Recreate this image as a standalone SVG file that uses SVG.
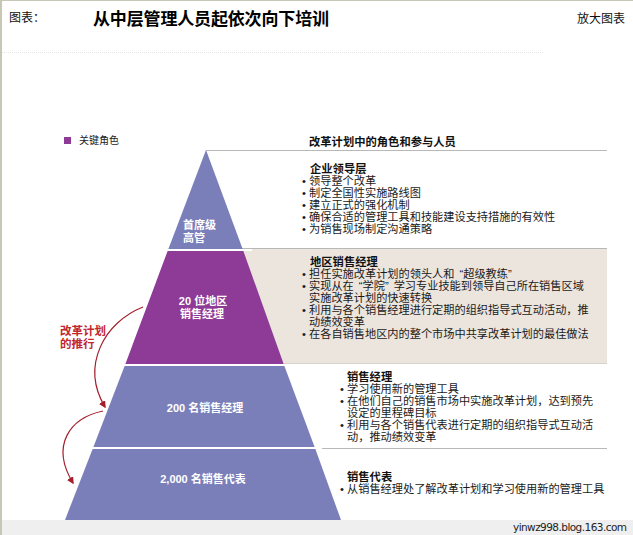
<svg xmlns="http://www.w3.org/2000/svg" width="633" height="535" viewBox="0 0 633 535">
<style>
text{font-family:"Liberation Sans","Noto Sans CJK SC",sans-serif;}
.t{font-size:11.2px;fill:#1a1a1a;}
.h{font-size:11.3px;font-weight:bold;fill:#111;}
.w{font-size:11px;font-weight:bold;fill:#fff;}
.blue{fill:#7b7fb9;}
.purple{fill:#8d3b96;}
.sep{stroke:#fff;stroke-width:2;}
.gl{stroke:#b8b8b8;stroke-width:1;}
.arr{fill:none;stroke:#a31f2c;stroke-width:1.2;marker-end:url(#ah);}
</style>
<defs>
<marker id="ah" viewBox="0 0 10 10" refX="8" refY="5" markerWidth="6" markerHeight="6" orient="auto">
<path d="M0,0 L10,5 L0,10 z" fill="#a31f2c"/>
</marker>
</defs>
<rect x="0" y="0" width="633" height="535" fill="#fff"/>
<!-- page chrome -->
<rect x="0" y="0" width="2" height="535" fill="#c8c6b4"/>
<line x1="0" y1="0.5" x2="633" y2="0.5" stroke="#c8c6b4"/>
<line x1="2" y1="52.5" x2="543" y2="52.5" stroke="#e4e4e4" stroke-dasharray="1,1"/>
<rect x="2" y="520" width="631" height="15" fill="#efefef"/>
<text x="9" y="22" style="font-size:12px;fill:#111;">图表：</text>
<text x="93" y="25" style="font-size:17px;font-weight:bold;fill:#000;" textLength="236">从中层管理人员起依次向下培训</text>
<text x="577" y="23" style="font-size:12px;fill:#111;" textLength="48">放大图表</text>
<text x="513" y="531" style="font-family:'DejaVu Sans',sans-serif;font-size:10.5px;fill:#222;" textLength="114">yinwz998.blog.163.com</text>

<!-- legend -->
<g id="legend">
<rect x="64" y="137" width="7" height="7" class="purple"/>
<text x="79" y="144" style="font-size:10px;fill:#222;">关键角色</text>
</g>

<!-- right panels / lines -->
<g id="panels">
<rect x="242" y="248" width="365" height="115" fill="#ece5dd"/>
<line x1="206" y1="150.5" x2="607" y2="150.5" class="gl"/>
<line x1="242" y1="248.5" x2="607" y2="248.5" class="gl"/>
<line x1="284" y1="363.5" x2="607" y2="363.5" stroke="#d8d2ca"/>
<line x1="315" y1="448.5" x2="607" y2="448.5" class="gl"/>
</g>

<text id="header" x="309" y="146" class="h">改革计划中的角色和参与人员</text>

<g id="level1">
<polygon points="206,150 243,250 168,250" class="blue"/>
<text x="183" y="229" class="w">首席级</text>
<text x="183" y="242" class="w">高管</text>
<text x="310" y="173" class="h">企业领导层</text>
<text x="302" y="185" class="t">• 领导整个改革</text>
<text x="302" y="197" class="t">• 制定全国性实施路线图</text>
<text x="302" y="209" class="t">• 建立正式的强化机制</text>
<text x="302" y="221" class="t">• 确保合适的管理工具和技能建设支持措施的有效性</text>
<text x="302" y="233" class="t">• 为销售现场制定沟通策略</text>
</g>

<g id="level2">
<polygon points="168,250 243,250 284,365 125,365" class="purple"/>
<text x="203" y="305" class="w" text-anchor="middle">20 位地区</text>
<text x="202" y="318" class="w" text-anchor="middle">销售经理</text>
<text x="310" y="266" class="h">地区销售经理</text>
<text x="302" y="278" class="t">• 担任实施改革计划的领头人和<tspan dx="5">“</tspan>超级教练”</text>
<text x="302" y="290" class="t">• 实现从在<tspan dx="5">“</tspan>学院”<tspan dx="5">学习专业技能到领导自己所在销售区域</tspan></text>
<text x="309" y="302" class="t">实施改革计划的快速转换</text>
<text x="302" y="314" class="t">• 利用与各个销售经理进行定期的组织指导式互动活动，推</text>
<text x="309" y="326" class="t">动绩效变革</text>
<text x="302" y="338" class="t">• 在各自销售地区内的整个市场中共享改革计划的最佳做法</text>
</g>

<g id="level3">
<polygon points="125,365 284,365 315,448 93,448" class="blue"/>
<text x="205" y="412" class="w" text-anchor="middle">200 名销售经理</text>
<text x="347" y="381" class="h">销售经理</text>
<text x="340" y="393" class="t">• 学习使用新的管理工具</text>
<text x="340" y="405" class="t">• 在他们自己的销售市场中实施改革计划，达到预先</text>
<text x="347" y="417" class="t">设定的里程碑目标</text>
<text x="340" y="429" class="t">• 利用与各个销售代表进行定期的组织指导式互动活</text>
<text x="347" y="441" class="t">动，推动绩效变革</text>
</g>

<g id="level4">
<polygon points="93,448 315,448 341,520 65,520" class="blue"/>
<text x="203" y="483" class="w" text-anchor="middle">2,000 名销售代表</text>
<text x="347" y="481" class="h">销售代表</text>
<text x="340" y="493" class="t">• 从销售经理处了解改革计划和学习使用新的管理工具</text>
</g>

<g id="separators">
<line x1="160" y1="250" x2="252" y2="250" class="sep"/>
<line x1="118" y1="365" x2="290" y2="365" class="sep"/>
<line x1="86" y1="448" x2="322" y2="448" class="sep"/>
</g>

<g id="rollout">
<text x="60" y="335" style="font-size:11.5px;font-weight:bold;fill:#c1272d;">改革计划</text>
<text x="60" y="348" style="font-size:11.5px;font-weight:bold;fill:#c1272d;">的推行</text>
</g>

<g id="connectors">
<path d="M143,307 C105,322 80,365 105,407" class="arr"/>
<path d="M103,411 C70,418 50,445 73,483" class="arr"/>
</g>
</svg>
